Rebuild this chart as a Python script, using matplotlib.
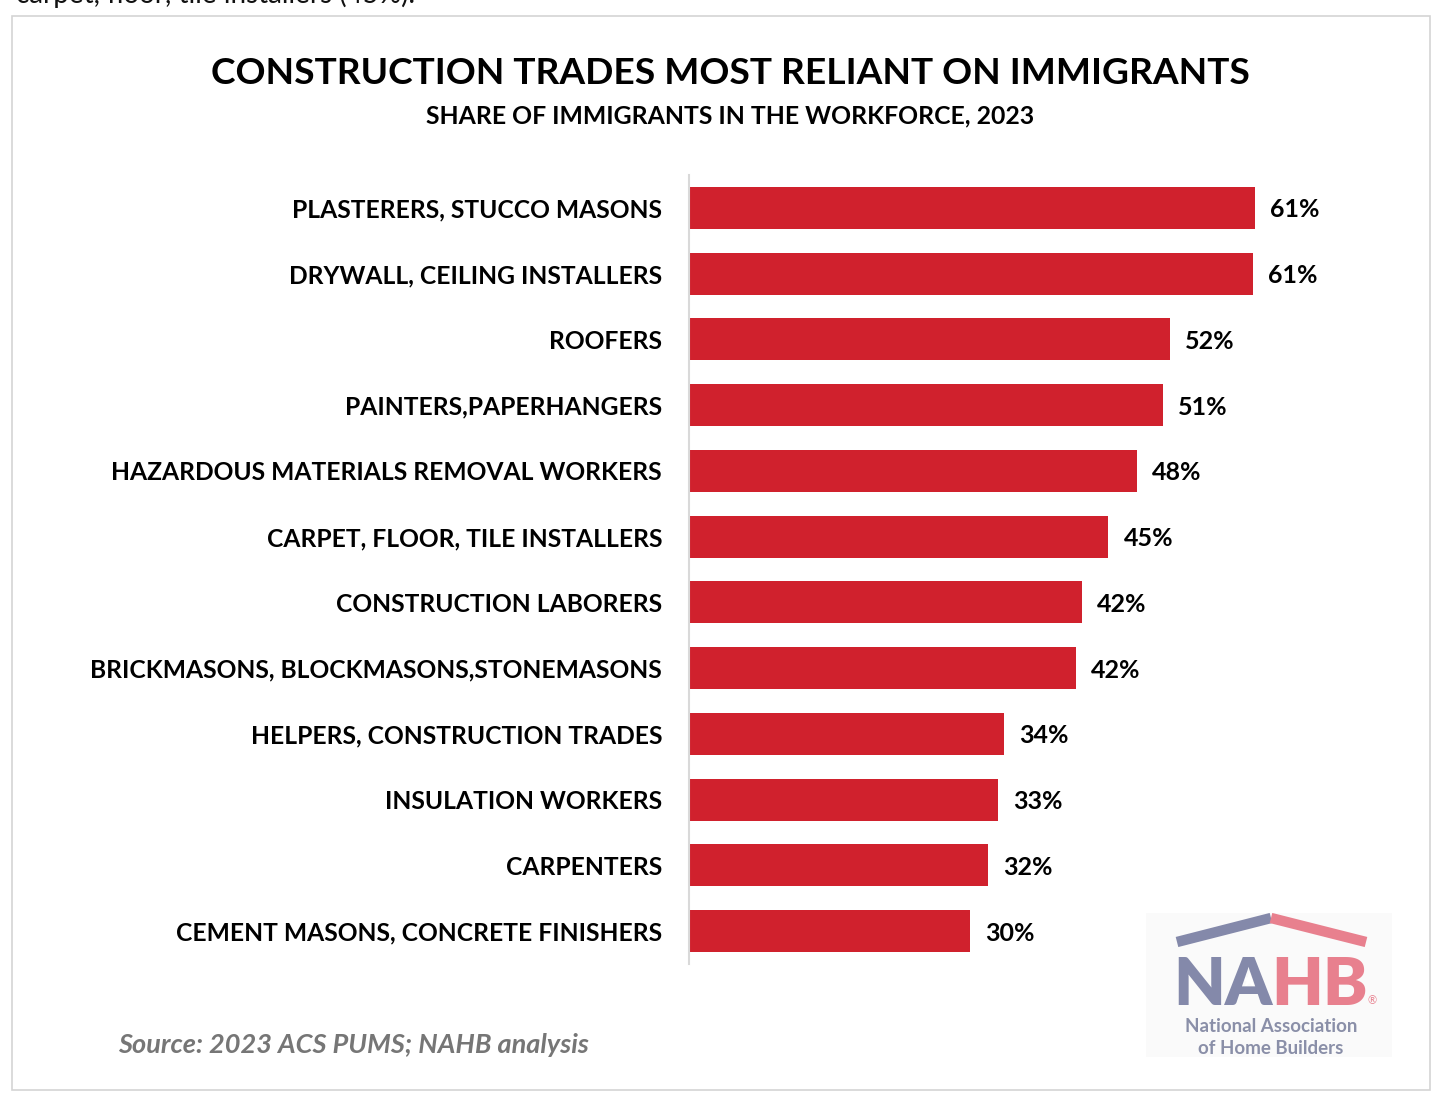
import matplotlib.pyplot as plt
from matplotlib.patches import Rectangle
from matplotlib.lines import Line2D

plt.rcParams['font.family'] = ['Lato', 'DejaVu Sans']

# data, top to bottom
trades = [
    'PLASTERERS, STUCCO MASONS',
    'DRYWALL, CEILING INSTALLERS',
    'ROOFERS',
    'PAINTERS,PAPERHANGERS',
    'HAZARDOUS MATERIALS REMOVAL WORKERS',
    'CARPET, FLOOR, TILE INSTALLERS',
    'CONSTRUCTION LABORERS',
    'BRICKMASONS, BLOCKMASONS,STONEMASONS',
    'HELPERS, CONSTRUCTION TRADES',
    'INSULATION WORKERS',
    'CARPENTERS',
    'CEMENT MASONS, CONCRETE FINISHERS',
]
shares = [60.9, 60.6, 51.7, 51.0, 48.2, 45.1, 42.3, 41.6, 33.9, 33.2, 32.2, 30.2]
share_labels = ['61%', '61%', '52%', '51%', '48%', '45%', '42%', '42%', '34%', '33%', '32%', '30%']

W, H = 1452, 1108
fig = plt.figure(figsize=(W / 100, H / 100), dpi=100)

def fx(px):
    return px / W

def fy(py):
    return 1 - py / H

# outer frame
fig.patches.append(Rectangle((fx(12), fy(1090)), fx(1430) - fx(12), fy(16) - fy(1090),
                             transform=fig.transFigure, fill=False, edgecolor='#d4d4d4', lw=1.2))

# clipped text line from the page above the chart
fig.text(fx(16), fy(3), 'carpet, floor, tile installers (45%).', fontsize=20, color='#111111',
         ha='left', va='baseline')

fig.text(fx(730), fy(71), 'CONSTRUCTION TRADES MOST RELIANT ON IMMIGRANTS', fontsize=26.7,
         fontweight='bold', ha='center', va='center_baseline', color='black')
fig.text(fx(730), fy(114), 'SHARE OF IMMIGRANTS IN THE WORKFORCE, 2023', fontsize=17.8,
         fontweight='bold', ha='center', va='center_baseline', color='black')

ax = fig.add_axes([fx(689), fy(964), 65 * 9.3 / W, (964 - 175) / H])
ypos = list(range(len(trades)))
ax.barh(ypos, shares, height=0.64, color='#D0212D')
ax.set_xlim(0, 65)
ax.set_ylim(len(trades) - 0.5, -0.5)
ax.set_yticks(ypos)
ax.set_yticklabels(trades, fontsize=17.7, fontweight='bold', va='center_baseline')
ax.tick_params(axis='y', length=0, pad=19.4)
ax.set_xticks([])
for s in ['top', 'right', 'bottom']:
    ax.spines[s].set_visible(False)
ax.spines['left'].set_color('#d9d9d9')
ax.spines['left'].set_linewidth(1.5)
for y, v, lab in zip(ypos, shares, share_labels):
    ax.annotate(lab, (v, y), xytext=(15, 0), textcoords='offset pixels',
                ha='left', va='center_baseline', fontsize=18, fontweight='bold')

fig.text(fx(118), fy(1043), 'Source: 2023 ACS PUMS; NAHB analysis', fontsize=19.5, style='italic',
         fontweight='bold', color='#767676', ha='left', va='center_baseline')

# NAHB logo
fig.patches.append(Rectangle((fx(1146), fy(1057)), fx(1392) - fx(1146), fy(913) - fy(1057),
                             transform=fig.transFigure, facecolor='#fafafa', edgecolor='none'))
blue = '#8489AA'
pink = '#E8808E'
fig.add_artist(Line2D([fx(1177), fx(1271)], [fy(942), fy(918)], color=blue, lw=7.5,
                      solid_capstyle='butt', transform=fig.transFigure))
fig.add_artist(Line2D([fx(1271), fx(1366)], [fy(918), fy(942)], color=pink, lw=7.5,
                      solid_capstyle='butt', transform=fig.transFigure))
fig.text(fx(1273), fy(1005), 'NA', fontsize=48, fontweight='heavy', color=blue,
         ha='right', va='baseline')
fig.text(fx(1271), fy(1005), 'HB', fontsize=48, fontweight='heavy', color=pink,
         ha='left', va='baseline')
fig.add_artist(Line2D([fx(1249)], [fy(980)], marker='*', markersize=13, color='white',
                      markeredgecolor='none', transform=fig.transFigure))
fig.text(fx(1372), fy(1001), '®', fontsize=8, color=pink, ha='center', va='center')
fig.text(fx(1271), fy(1027), 'National Association', fontsize=13.5, fontweight='bold',
         color='#8A8FA8', ha='center', va='center')
fig.text(fx(1271), fy(1048), 'of Home Builders', fontsize=13.5, fontweight='bold',
         color='#8A8FA8', ha='center', va='center')

fig.savefig('out.png', dpi=100, facecolor='white')
